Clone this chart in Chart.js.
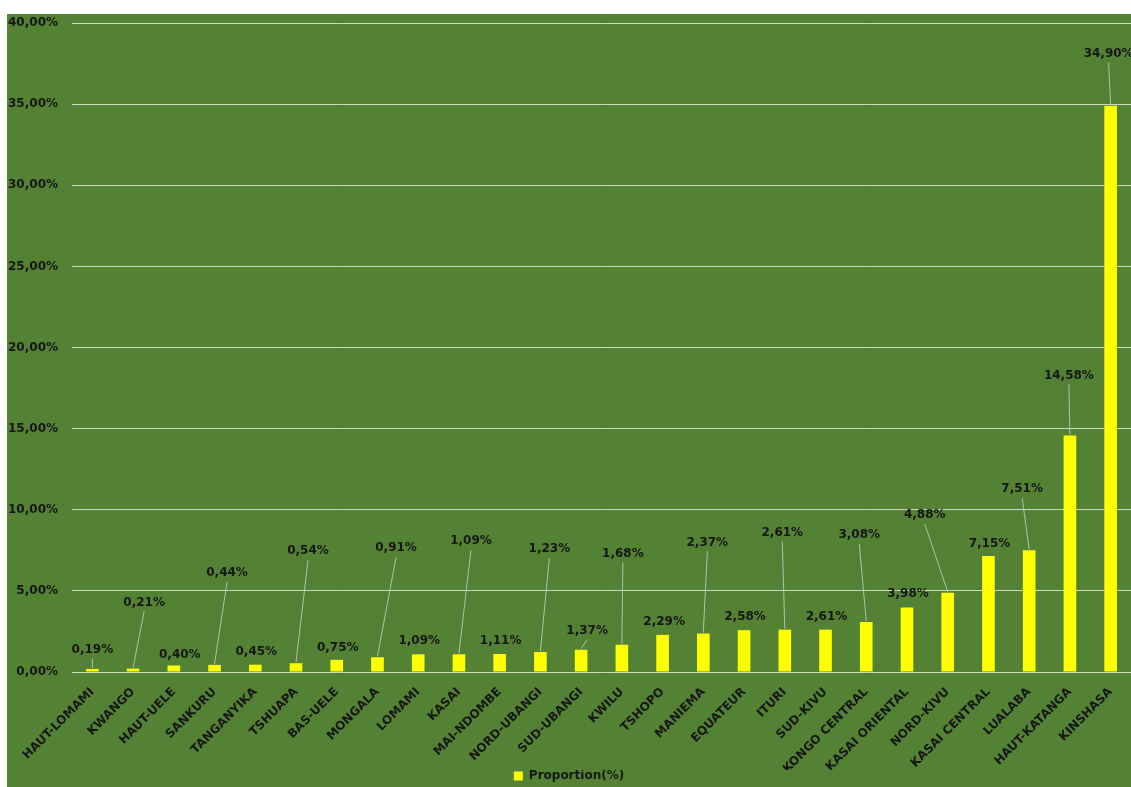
<!DOCTYPE html>
<html>
<head>
<meta charset="utf-8">
<script src="https://cdn.jsdelivr.net/npm/chart.js@4"></script>
<style>
  html, body { margin: 0; padding: 0; background: #ffffff; }
  #wrap { width: 1131px; height: 787px; position: relative; }
</style>
</head>
<body>
<div id="wrap"><canvas id="chart"></canvas></div>
<script>
// Provinces, sorted by share
const provinces = [
  'HAUT-LOMAMI', 'KWANGO', 'HAUT-UELE', 'SANKURU', 'TANGANYIKA', 'TSHUAPA',
  'BAS-UELE', 'MONGALA', 'LOMAMI', 'KASAI', 'MAI-NDOMBE', 'NORD-UBANGI',
  'SUD-UBANGI', 'KWILU', 'TSHOPO', 'MANIEMA', 'EQUATEUR', 'ITURI',
  'SUD-KIVU', 'KONGO CENTRAL', 'KASAI ORIENTAL', 'NORD-KIVU', 'KASAI CENTRAL',
  'LUALABA', 'HAUT-KATANGA', 'KINSHASA'
];

// Proportion (%) per province
const proportions = [
  0.19, 0.21, 0.40, 0.44, 0.45, 0.54,
  0.75, 0.91, 1.09, 1.09, 1.11, 1.23,
  1.37, 1.68, 2.29, 2.37, 2.58, 2.61,
  2.61, 3.08, 3.98, 4.88, 7.15,
  7.51, 14.58, 34.90
];

const seriesName = 'Proportion(%)';

// Value axis range
const yMin = 0;
const yMax = 40;
const yStep = 5;

// Where each value label sits relative to the top of its bar: [dx, dy, leader line]
const labelOffsets = [
  [0, -19, true], [11, -66, true], [6, -11, false], [12.5, -92, true], [1, -13, false], [12, -112, true],
  [1, -12, false], [18.6, -109, true], [1, -13, false], [12, -113, true], [1, -13, false], [9, -103, true],
  [6, -19, true], [1, -91, true], [1.5, -13, false], [4, -91, true], [1, -13, false], [-2.5, -97, true],
  [1, -13, false], [-7, -87, true], [1, -13.5, false], [-23, -78, true], [1, -12, false],
  [-7, -61, true], [-1, -60, true], [-2, -52, true]
];

const FONT = 'DejaVu Sans';
const TEXT = '#161616';
const PANEL = '#548235';

const fmtPct = v => v.toFixed(2).replace('.', ',') + '%';

// Green panel behind the whole chart
const panelPlugin = {
  id: 'panel',
  beforeDraw(chart) {
    const ctx = chart.ctx;
    ctx.save();
    ctx.fillStyle = PANEL;
    ctx.fillRect(7, 14, chart.width - 7, chart.height - 14);
    ctx.restore();
  }
};

// Value labels above the bars, with thin leader lines where the label is lifted
const valueLabelPlugin = {
  id: 'valueLabels',
  afterDatasetsDraw(chart) {
    const ctx = chart.ctx;
    const meta = chart.getDatasetMeta(0);
    const data = chart.data.datasets[0].data;
    ctx.save();
    ctx.font = 'bold 12px "' + FONT + '"';
    ctx.textAlign = 'center';
    ctx.textBaseline = 'middle';
    meta.data.forEach((bar, i) => {
      const [dx, dy, leader] = labelOffsets[i];
      const lx = bar.x + dx;
      const ly = bar.y + dy;
      if (leader) {
        ctx.strokeStyle = 'rgba(205,210,200,0.8)';
        ctx.lineWidth = 1;
        ctx.beginPath();
        ctx.moveTo(lx, ly + 9);
        ctx.lineTo(bar.x, bar.y - 1);
        ctx.stroke();
      }
      ctx.fillStyle = TEXT;
      ctx.fillText(fmtPct(data[i]), lx, ly);
    });
    ctx.restore();
  }
};

new Chart(document.getElementById('chart'), {
  type: 'bar',
  data: {
    labels: provinces,
    datasets: [{
      label: seriesName,
      data: proportions,
      backgroundColor: '#ffff00',
      borderWidth: 0,
      categoryPercentage: 1,
      barPercentage: 0.31
    }]
  },
  options: {
    responsive: true,
    maintainAspectRatio: false,
    animation: false,
    layout: { padding: { left: 7, top: 23, right: 0, bottom: -5 } },
    plugins: {
      legend: {
        display: true,
        position: 'bottom',
        labels: {
          boxWidth: 9,
          boxHeight: 9,
          padding: 0,
          color: TEXT,
          font: { family: FONT, size: 12, weight: 'bold' }
        }
      },
      tooltip: { enabled: false }
    },
    scales: {
      x: {
        grid: { display: false, drawTicks: false },
        border: { display: false },
        ticks: {
          autoSkip: false,
          minRotation: 45,
          maxRotation: 45,
          padding: 13,
          color: TEXT,
          font: { family: FONT, size: 12, weight: 'bold' }
        },
        afterFit(scale) {
          scale.height = 98;
          scale.paddingLeft = 0;
          scale.paddingRight = 0;
        }
      },
      y: {
        min: yMin,
        max: yMax,
        grid: { color: '#cdd8c2', lineWidth: 1, drawTicks: false },
        border: { display: false },
        ticks: {
          stepSize: yStep,
          padding: 14,
          color: TEXT,
          font: { family: FONT, size: 12, weight: 'bold' },
          callback: v => fmtPct(v)
        },
        afterFit(scale) {
          scale.width = 65;
          scale.paddingTop = 0;
          scale.paddingBottom = 0;
        }
      }
    }
  },
  plugins: [panelPlugin, valueLabelPlugin]
});
</script>
</body>
</html>
